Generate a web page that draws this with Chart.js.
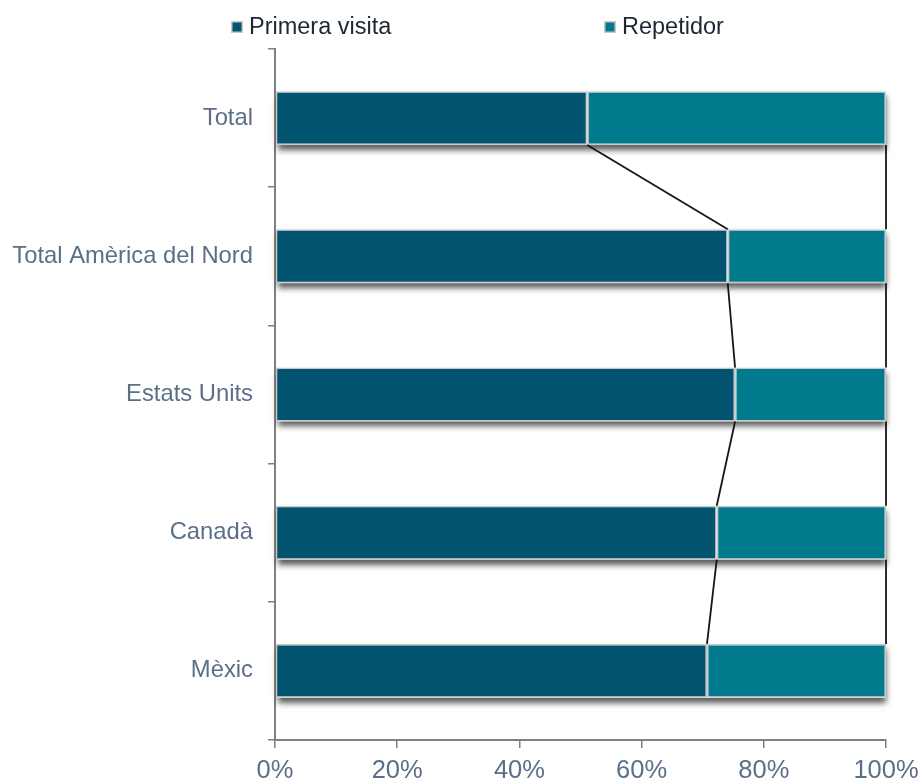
<!DOCTYPE html>
<html>
<head>
<meta charset="utf-8">
<script src="https://cdn.jsdelivr.net/npm/chart.js@4"></script>
<style>
html, body { margin: 0; padding: 0; background: #fff; }
#wrap { width: 923px; height: 784px; }
</style>
</head>
<body>
<div id="wrap"><canvas id="grafic"></canvas></div>
<script>
var categories = ['Total', 'Total Amèrica del Nord', 'Estats Units', 'Canadà', 'Mèxic'];
var seriesNames = ['Primera visita', 'Repetidor'];
var primeraVisita = [51.1, 74.1, 75.3, 72.3, 70.7];
var repetidor = [48.9, 25.9, 24.7, 27.7, 29.3];
var xTicks = [0, 20, 40, 60, 80, 100];

var colors = ['#02536f', '#007a8c'];
var gris = '#808080';

Chart.defaults.font.family = '"Liberation Sans", Arial, sans-serif';

// ombra sota les barres + línies de sèrie entre barres
var ombraILinies = {
    id: 'ombraILinies',
    beforeDatasetsDraw: function (chart) {
        var ctx = chart.ctx;
        var primer = chart.getDatasetMeta(0).data;
        var ultim = chart.getDatasetMeta(chart.data.datasets.length - 1).data;
        ctx.save();
        ctx.shadowColor = 'rgba(0,0,0,0.65)';
        ctx.shadowBlur = 6;
        ctx.shadowOffsetX = 0;
        ctx.shadowOffsetY = 5;
        ctx.fillStyle = '#ffffff';
        primer.forEach(function (el, i) {
            var x0 = el.base, x1 = ultim[i].x;
            ctx.fillRect(x0 + 2, el.y - el.height / 2, x1 - x0 - 2, el.height);
        });
        ctx.restore();
    },
    afterDatasetsDraw: function (chart) {
        var ctx = chart.ctx;
        ctx.save();
        ctx.strokeStyle = '#161616';
        ctx.lineWidth = 1.8;
        chart.data.datasets.forEach(function (ds, d) {
            var els = chart.getDatasetMeta(d).data;
            for (var i = 0; i < els.length - 1; i++) {
                var a = els[i], b = els[i + 1];
                ctx.beginPath();
                ctx.moveTo(a.x, a.y + a.height / 2);
                ctx.lineTo(b.x, b.y - b.height / 2);
                ctx.stroke();
            }
        });
        ctx.restore();
    }
};

// llegenda pròpia
var llegenda = {
    id: 'llegenda',
    afterDraw: function (chart) {
        var ctx = chart.ctx;
        var posX = [231, 604];
        var y = 27;
        ctx.save();
        ctx.font = '23.5px "Liberation Sans", Arial, sans-serif';
        ctx.textBaseline = 'middle';
        chart.data.datasets.forEach(function (ds, d) {
            ctx.fillStyle = '#c8c8c8';
            ctx.fillRect(posX[d], y - 6, 12, 12);
            ctx.fillStyle = ds.backgroundColor;
            ctx.fillRect(posX[d] + 1.5, y - 4.5, 9, 9);
            ctx.fillStyle = '#1d2733';
            ctx.fillText(ds.label, posX[d] + 18, y + 1);
        });
        ctx.restore();
    }
};

new Chart(document.getElementById('grafic'), {
    type: 'bar',
    data: {
        labels: categories,
        datasets: [
            { label: seriesNames[0], data: primeraVisita, backgroundColor: colors[0] },
            { label: seriesNames[1], data: repetidor, backgroundColor: colors[1] }
        ]
    },
    options: {
        indexAxis: 'y',
        responsive: true,
        maintainAspectRatio: false,
        animation: false,
        layout: { padding: { top: 49, right: 37, left: 0, bottom: 0 } },
        datasets: {
            bar: {
                barPercentage: 0.39,
                categoryPercentage: 1,
                borderColor: '#c8c8c8',
                borderWidth: 1.5,
                borderSkipped: false
            }
        },
        plugins: {
            legend: { display: false },
            tooltip: { enabled: false }
        },
        scales: {
            x: {
                stacked: true,
                min: 0,
                max: 100,
                afterBuildTicks: function (s) {
                    s.ticks = xTicks.map(function (v) { return { value: v }; });
                },
                ticks: {
                    callback: function (v) { return v + '%'; },
                    color: '#5b6f88',
                    font: { size: 25.5 },
                    padding: 8,
                    maxRotation: 0
                },
                grid: { drawOnChartArea: false, tickLength: 8, color: gris, lineWidth: 1.5 },
                border: { color: gris, width: 2 },
                afterFit: function (s) {
                    s.height = 44;
                    s.paddingLeft = 0;
                    s.paddingRight = 0;
                }
            },
            y: {
                stacked: true,
                ticks: {
                    color: '#5b6f88',
                    font: { size: 23.8 },
                    padding: 15
                },
                grid: { offset: true, drawOnChartArea: false, tickLength: 7, color: gris, lineWidth: 1.5 },
                border: { color: gris, width: 2 },
                afterFit: function (s) { s.width = 275; }
            }
        }
    },
    plugins: [ombraILinies, llegenda]
});
</script>
</body>
</html>
